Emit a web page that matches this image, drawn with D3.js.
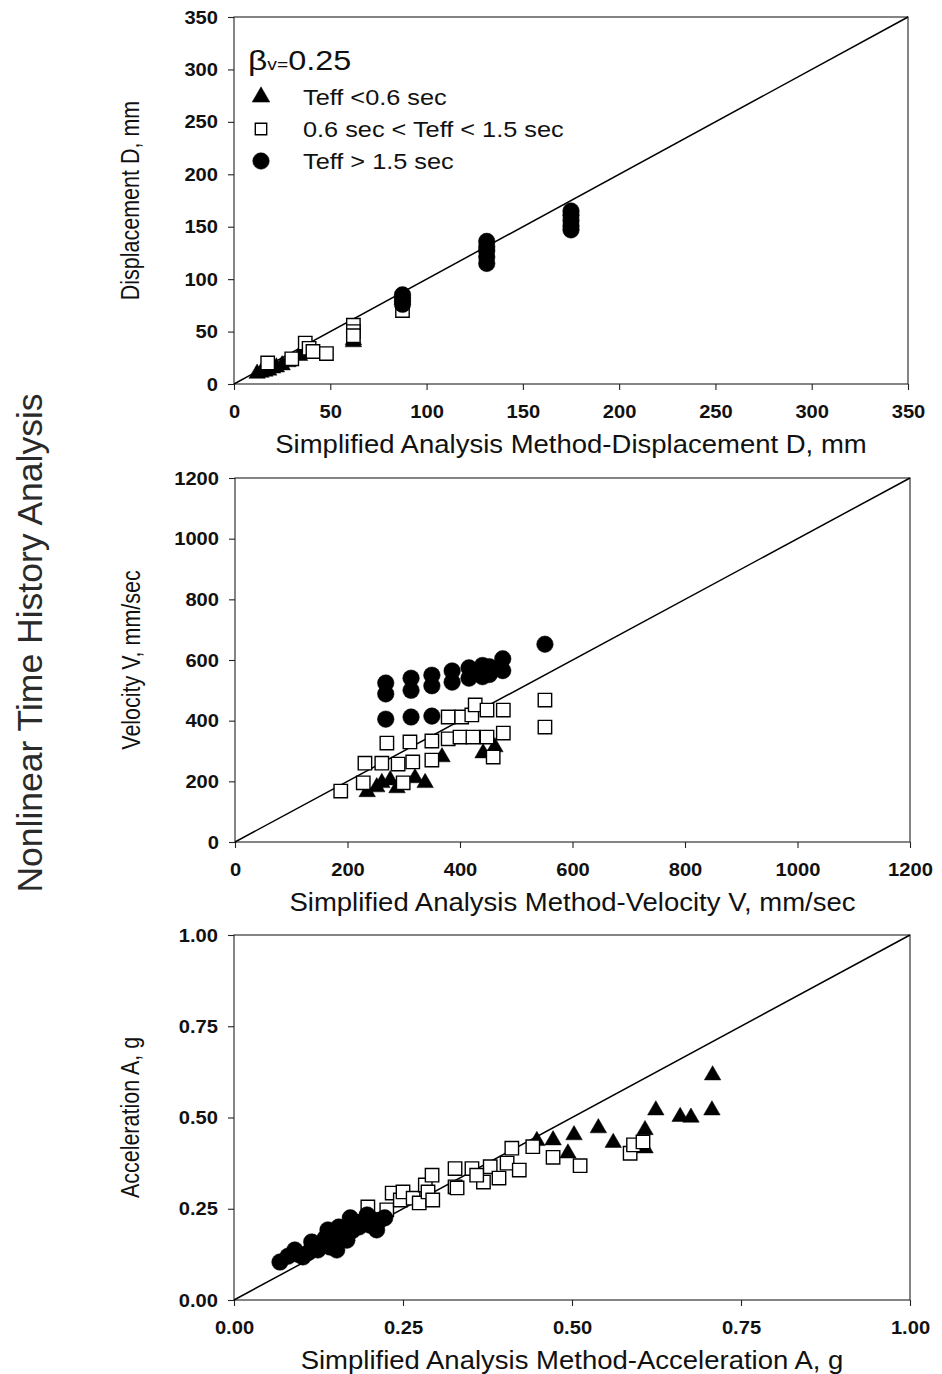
<!DOCTYPE html>
<html>
<head>
<meta charset="utf-8">
<script src="https://cdn.jsdelivr.net/npm/d3@7"></script>
<style>
  html, body { margin: 0; padding: 0; background: #fff; }
  svg { display: block; font-family: "Liberation Sans", Arial, sans-serif; }
</style>
</head>
<body>
<svg id="chart" width="942" height="1374"></svg>
<script>
// ---- Displacement panel (mm) ----
const dispTicks = [0, 50, 100, 150, 200, 250, 300, 350];
const dispTri = [[12, 10], [14, 11], [16, 12], [18, 13], [20, 15], [22, 16], [25, 18], [28, 21], [34, 27], [37, 29], [40, 31], [62, 42], [62, 40]];
const dispSq = [[17.5, 20], [30, 24], [37, 39], [39, 34], [41, 31], [48, 29], [62, 56], [62, 50], [62, 46], [87.5, 70]];
const dispCirc = [[87.5, 85], [87.5, 82], [87.5, 79], [87.5, 76],
  [131.25, 136], [131.25, 131], [131.25, 127], [131.25, 121], [131.25, 115],
  [175, 165], [175, 161], [175, 156], [175, 151], [175, 147]];

// ---- Velocity panel (mm/sec) ----
const velTicks = [0, 200, 400, 600, 800, 1000, 1200];
const velTri = [[235, 165], [252, 181], [261, 195], [276, 204], [288, 178], [320, 211], [338, 195], [368, 280], [441, 293], [462, 313]];
const velSq = [[188, 168], [228, 195], [231, 260], [261, 260], [290, 257], [270, 326], [299, 195], [311, 330],
  [316, 264], [350, 270], [350, 333], [379, 340], [400, 346], [423, 346], [448, 346], [477, 359], [459, 280],
  [379, 412], [403, 412], [421, 419], [427, 452], [448, 435], [477, 435], [551, 468], [551, 379]];
const velCirc = [[268, 524], [268, 488], [268, 405], [313, 540], [313, 500], [313, 412], [350, 550], [350, 515], [350, 415],
  [386, 564], [386, 527], [416, 574], [416, 540], [440, 582], [440, 545], [452, 578], [452, 552],
  [476, 604], [476, 565], [551, 652]];

// ---- Acceleration panel (g) ----
const accTicks = [0, 0.25, 0.5, 0.75, 1.0];
const accTri = [[0.708, 0.616], [0.707, 0.52], [0.624, 0.52], [0.66, 0.502], [0.676, 0.5], [0.608, 0.466], [0.561, 0.431],
  [0.539, 0.471], [0.503, 0.452], [0.472, 0.438], [0.494, 0.402], [0.448, 0.436], [0.608, 0.416]];
const accSq = [[0.198, 0.255], [0.226, 0.247], [0.234, 0.293], [0.246, 0.274], [0.25, 0.296], [0.265, 0.279], [0.274, 0.266],
  [0.283, 0.315], [0.293, 0.342], [0.287, 0.296], [0.294, 0.274], [0.327, 0.36], [0.327, 0.31], [0.33, 0.307],
  [0.352, 0.36], [0.369, 0.323], [0.379, 0.365], [0.392, 0.334], [0.404, 0.375], [0.422, 0.356], [0.359, 0.342],
  [0.411, 0.416], [0.442, 0.42], [0.472, 0.391], [0.512, 0.368], [0.586, 0.402], [0.591, 0.425], [0.605, 0.433]];
const accCirc = [[0.068, 0.104], [0.08, 0.12], [0.090, 0.137], [0.095, 0.125], [0.102, 0.118], [0.11, 0.13],
  [0.115, 0.159], [0.12, 0.15], [0.124, 0.137], [0.13, 0.15], [0.135, 0.17], [0.139, 0.192], [0.142, 0.145],
  [0.145, 0.18], [0.152, 0.137], [0.155, 0.2], [0.157, 0.164], [0.164, 0.192], [0.167, 0.164], [0.172, 0.225],
  [0.175, 0.19], [0.182, 0.211], [0.185, 0.2], [0.19, 0.215], [0.197, 0.233], [0.201, 0.205], [0.205, 0.22],
  [0.211, 0.192], [0.216, 0.219], [0.223, 0.225]];

const legendLabels = ["Teff <0.6 sec", "0.6 sec < Teff < 1.5 sec", "Teff > 1.5 sec"];

const svg = d3.select("#chart");
svg.append("rect").attr("width", 942).attr("height", 1374).attr("fill", "#fff");

// widen glyphs horizontally by factor k while keeping the anchor
function stretch(sel, k) {
  sel.each(function () {
    const w = this.getComputedTextLength();
    d3.select(this).attr("textLength", w * k).attr("lengthAdjust", "spacingAndGlyphs");
  });
}

const triPath = d3.symbol().type(d3.symbolTriangle).size(118)();
const sqPath = d3.symbol().type(d3.symbolSquare).size(180)();
const circPath = d3.symbol().type(d3.symbolCircle).size(215)();

function drawMarkers(g, data, x, y, kind) {
  const path = kind === "tri" ? triPath : kind === "sq" ? sqPath : circPath;
  g.selectAll(null).data(data).enter().append("path")
    .attr("d", path)
    .attr("transform", d => `translate(${x(d[0])},${y(d[1])})`)
    .attr("fill", kind === "sq" ? "#fff" : "#000")
    .attr("stroke", "#000")
    .attr("stroke-width", kind === "sq" ? 1.4 : 0.5);
}

function panel(opts) {
  const { left, right, top, bottom, max, ticks, fmt, tri, sq, circ, xTitle, yTitle } = opts;
  const x = d3.scaleLinear().domain([0, max]).range([left, right]);
  const y = d3.scaleLinear().domain([0, max]).range([bottom, top]);
  const g = svg.append("g");

  // frame
  g.append("rect").attr("x", left).attr("y", top)
    .attr("width", right - left).attr("height", bottom - top)
    .attr("fill", "none").attr("stroke", "#222").attr("stroke-width", 1.1);

  const xAxis = g.append("g").attr("transform", `translate(0,${bottom})`)
    .call(d3.axisBottom(x).tickValues(ticks).tickFormat(fmt).tickSizeOuter(0).tickSize(6).tickPadding(15));
  const yAxis = g.append("g").attr("transform", `translate(${left},0)`)
    .call(d3.axisLeft(y).tickValues(ticks).tickFormat(fmt).tickSizeOuter(0).tickSize(6).tickPadding(10));
  [xAxis, yAxis].forEach(a => {
    a.select(".domain").remove();
    a.selectAll("line").attr("stroke", "#222").attr("stroke-width", 1.1);
    a.selectAll("text").attr("font-family", "Liberation Sans, Arial, sans-serif")
      .attr("font-size", 19).attr("font-weight", "bold").attr("fill", "#111");
    stretch(a.selectAll("text"), 1.06);
  });

  // 1:1 reference line
  g.append("line").attr("x1", x(0)).attr("y1", y(0)).attr("x2", x(max)).attr("y2", y(max))
    .attr("stroke", "#000").attr("stroke-width", 1.5);

  const m = g.append("g");
  drawMarkers(m, tri, x, y, "tri");
  drawMarkers(m, sq, x, y, "sq");
  drawMarkers(m, circ, x, y, "circ");

  const xt = g.append("text").attr("x", (left + right) / 2).attr("y", bottom + 69)
    .attr("text-anchor", "middle").attr("font-size", 25).attr("fill", "#111").text(xTitle);
  stretch(xt, 1.1);
  // rotated title; glyphs are widened across the page to match the horizontal titles
  g.append("text")
    .attr("transform", `translate(${left - 95},${(top + bottom) / 2}) rotate(-90) scale(1,1.18)`)
    .attr("text-anchor", "middle").attr("font-size", 21.5).attr("fill", "#111").text(yTitle);
  return { x, y };
}

panel({ left: 234, right: 908, top: 17, bottom: 384, max: 350, ticks: dispTicks, fmt: d3.format("d"),
  tri: dispTri, sq: dispSq, circ: dispCirc,
  xTitle: "Simplified Analysis Method-Displacement D, mm", yTitle: "Displacement D, mm" });

panel({ left: 235, right: 910, top: 478, bottom: 842, max: 1200, ticks: velTicks, fmt: d3.format("d"),
  tri: velTri, sq: velSq, circ: velCirc,
  xTitle: "Simplified Analysis Method-Velocity V, mm/sec", yTitle: "Velocity V, mm/sec" });

panel({ left: 234, right: 910, top: 935, bottom: 1300, max: 1.0, ticks: accTicks, fmt: d3.format(".2f"),
  tri: accTri, sq: accSq, circ: accCirc,
  xTitle: "Simplified Analysis Method-Acceleration A, g", yTitle: "Acceleration A, g" });

// legend in the displacement panel
const leg = svg.append("g");
const beta = leg.append("text").attr("x", 248).attr("y", 70).attr("fill", "#111");
beta.append("tspan").attr("font-size", 28).text("β");
beta.append("tspan").attr("font-size", 16).text("v=");
beta.append("tspan").attr("font-size", 27).text("0.25");
stretch(beta, 1.2);

const legRows = [{ kind: "tri", cy: 97 }, { kind: "sq", cy: 129 }, { kind: "circ", cy: 161 }];
legRows.forEach((r, i) => {
  const p = r.kind === "tri" ? d3.symbol().type(d3.symbolTriangle).size(135)()
    : r.kind === "sq" ? d3.symbol().type(d3.symbolSquare).size(130)() : circPath;
  leg.append("path").attr("d", p).attr("transform", `translate(261,${r.cy})`)
    .attr("fill", r.kind === "sq" ? "#fff" : "#000").attr("stroke", "#000")
    .attr("stroke-width", r.kind === "sq" ? 1.4 : 0.5);
  const t = leg.append("text").attr("x", 303).attr("y", r.cy + 8).attr("font-size", 22)
    .attr("fill", "#111").text(legendLabels[i]);
  stretch(t, 1.15);
});

// shared vertical title
svg.append("text").attr("transform", "translate(42,643) rotate(-90)")
  .attr("text-anchor", "middle").attr("font-size", 35.5).attr("fill", "#2a2a2a")
  .text("Nonlinear Time History Analysis");
</script>
</body>
</html>
